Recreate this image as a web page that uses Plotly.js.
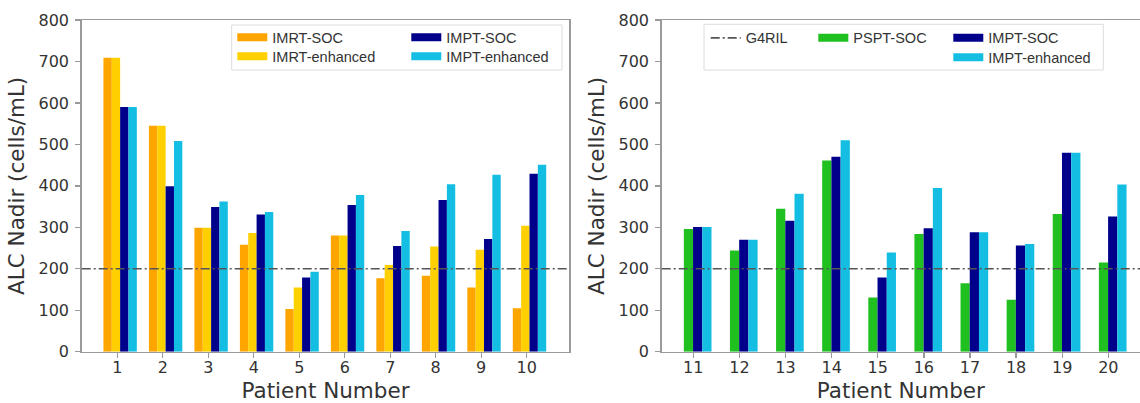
<!DOCTYPE html>
<html>
<head>
<meta charset="utf-8">
<script src="https://cdn.plot.ly/plotly-3.0.1.min.js"></script>
<style>
html,body{margin:0;padding:0;background:#ffffff;}
#chart{width:1140px;height:403px;}
</style>
</head>
<body>
<div id="chart"></div>
<script>
// ---------- data ----------
const patientsA = [1, 2, 3, 4, 5, 6, 7, 8, 9, 10];
const patientsB = [11, 12, 13, 14, 15, 16, 17, 18, 19, 20];
const imrtSOC      = [709, 545, 299, 258, 103, 280, 177, 183, 155, 105];
const imrtEnhanced = [709, 545, 299, 286, 155, 280, 209, 254, 246, 304];
const imptSOC_A      = [590, 399, 349, 331, 179, 354, 255, 366, 272, 429];
const imptEnhanced_A = [590, 508, 362, 337, 193, 378, 291, 404, 427, 451];
const psptSOC        = [296, 244, 345, 461, 131, 284, 165, 125, 332, 215];
const imptSOC_B      = [301, 270, 316, 470, 179, 298, 288, 256, 480, 326];
const imptEnhanced_B = [301, 270, 381, 510, 239, 395, 288, 260, 480, 403];
const g4rilThreshold = 200;
const yTickValues = [0, 100, 200, 300, 400, 500, 600, 700, 800];
const seriesNames = ['IMRT-SOC', 'IMRT-enhanced', 'IMPT-SOC', 'IMPT-enhanced', 'PSPT-SOC', 'G4RIL'];

// ---------- styling ----------
const W = 1140, H = 403;
const C = {
  imrtSOC: '#FFA500', imrtEnh: '#FFD000', imptSOC: '#00008B',
  imptEnh: '#14BEE2', pspt: '#20C020', line: '#555555'
};
const fx = p => p / W;          // pixel -> paper x
const fy = p => 1 - p / H;      // pixel -> paper y

function bar(x, y, name, color, xa, ya, offset, width) {
  return {type: 'bar', x: x, y: y, name: name, marker: {color: color, line: {width: 0}},
          xaxis: xa, yaxis: ya, offset: offset, width: width, showlegend: false, hoverinfo: 'skip'};
}
function key(name, color, legend, rank, lw) {
  const t = {type: 'scatter', mode: 'lines', x: [null], y: [null], name: name,
             line: {color: color, width: 8}, legend: legend, legendrank: rank,
             showlegend: true, hoverinfo: 'skip'};
  if (lw) t.legendwidth = lw;
  return t;
}

const wA = 0.1835, wB = 0.2;
const traces = [
  bar(patientsA, imrtSOC, seriesNames[0], C.imrtSOC, 'x', 'y', -0.305, wA),
  bar(patientsA, imrtEnhanced, seriesNames[1], C.imrtEnh, 'x', 'y', -0.1215, wA),
  bar(patientsA, imptSOC_A, seriesNames[2], C.imptSOC, 'x', 'y', 0.062, wA),
  bar(patientsA, imptEnhanced_A, seriesNames[3], C.imptEnh, 'x', 'y', 0.2455, wA),
  bar(patientsB, psptSOC, seriesNames[4], C.pspt, 'x2', 'y2', -0.205, wB),
  bar(patientsB, imptSOC_B, seriesNames[2], C.imptSOC, 'x2', 'y2', -0.005, wB),
  bar(patientsB, imptEnhanced_B, seriesNames[3], C.imptEnh, 'x2', 'y2', 0.195, wB),
  // legend keys
  key(seriesNames[0], C.imrtSOC, 'legend', 1, 129),
  key(seriesNames[2], C.imptSOC, 'legend', 2),
  key(seriesNames[1], C.imrtEnh, 'legend2', 1, 129),
  key(seriesNames[3], C.imptEnh, 'legend2', 2),
  key(seriesNames[4], C.pspt, 'legend3', 2, 90),
  key(seriesNames[2], C.imptSOC, 'legend3', 3),
  key(seriesNames[3], C.imptEnh, 'legend4', 1)
];

const tickFont = {family: 'DejaVu Sans', size: 16, color: '#333333'};
const titleFont = {family: 'DejaVu Sans', size: 21.5, color: '#333333'};
const axisBase = {
  showline: true, linecolor: '#9a9a9a', linewidth: 1.5,
  ticks: 'outside', ticklen: 5, tickwidth: 1.3, tickcolor: '#9a9a9a',
  showgrid: false, zeroline: false, tickfont: tickFont, fixedrange: true
};
const legendBase = {
  orientation: 'h', xanchor: 'left', yanchor: 'top', bgcolor: 'rgba(0,0,0,0)',
  borderwidth: 0, font: {family: 'Liberation Sans', size: 14.5, color: '#333333'},
  traceorder: 'normal', itemclick: false, itemdoubleclick: false
};
const yDom = [fy(351.7), fy(20)];
const dash = '9px,3px,2px,3px';

const layout = {
  width: W, height: H,
  margin: {l: 0, r: 0, t: 0, b: 0},
  paper_bgcolor: '#ffffff', plot_bgcolor: '#ffffff',
  barmode: 'overlay',
  xaxis: Object.assign({}, axisBase, {
    domain: [fx(81.7), fx(569.3)], range: [0.217, 10.937], anchor: 'y', mirror: true,
    tickvals: patientsA, ticktext: patientsA.map(String), ticklabelstandoff: -4,
    title: {text: 'Patient Number', font: titleFont, standoff: 8}
  }),
  yaxis: Object.assign({}, axisBase, {
    domain: yDom, range: [0, 800], anchor: 'x', mirror: true,
    tickvals: yTickValues, ticktext: yTickValues.map(String), ticklabelstandoff: 3,
    title: {text: 'ALC Nadir (cells/mL)', font: titleFont, standoff: 8}
  }),
  xaxis2: Object.assign({}, axisBase, {
    domain: [fx(661.7), 1], range: [10.315, 20.687], anchor: 'y2', mirror: true,
    tickvals: patientsB, ticktext: patientsB.map(String), ticklabelstandoff: -4,
    title: {text: 'Patient Number', font: titleFont, standoff: 8}
  }),
  yaxis2: Object.assign({}, axisBase, {
    domain: yDom, range: [0, 800], anchor: 'x2', mirror: false,
    tickvals: yTickValues, ticktext: yTickValues.map(String), ticklabelstandoff: 3,
    title: {text: 'ALC Nadir (cells/mL)', font: titleFont, standoff: 8}
  }),
  legend: Object.assign({}, legendBase, {x: fx(232.3), y: fy(21.3)}),
  legend2: Object.assign({}, legendBase, {x: fx(232.3), y: fy(40.3)}),
  legend3: Object.assign({}, legendBase, {x: fx(705.7), y: fy(21.9)}),
  legend4: Object.assign({}, legendBase, {x: fx(948.3), y: fy(41.4)}),
  shapes: [
    {type: 'rect', xref: 'paper', yref: 'paper', x0: fx(231.7), x1: fx(562), y0: fy(70), y1: fy(25),
     line: {color: '#dcdcdc', width: 1}, fillcolor: 'rgba(255,255,255,0.85)', layer: 'above'},
    {type: 'rect', xref: 'paper', yref: 'paper', x0: fx(704), x1: fx(1103.3), y0: fy(70), y1: fy(24.3),
     line: {color: '#dcdcdc', width: 1}, fillcolor: 'rgba(255,255,255,0.85)', layer: 'above'},
    {type: 'line', xref: 'x domain', yref: 'y', x0: 0, x1: 1, y0: g4rilThreshold, y1: g4rilThreshold,
     line: {color: C.line, width: 1.7, dash: dash}, layer: 'above', showlegend: false},
    {type: 'line', xref: 'x2 domain', yref: 'y2', x0: 0, x1: 1, y0: g4rilThreshold, y1: g4rilThreshold,
     line: {color: C.line, width: 1.7, dash: dash}, layer: 'above',
     showlegend: true, legend: 'legend3', name: seriesNames[5], legendrank: 1, legendwidth: 62.6}
  ]
};

Plotly.newPlot('chart', traces, layout, {staticPlot: true, displayModeBar: false});
</script>
</body>
</html>
